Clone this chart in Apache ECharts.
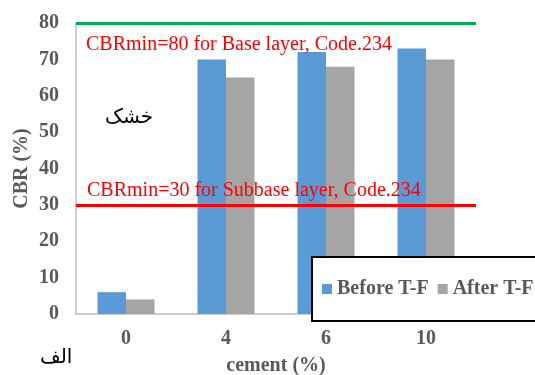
<!DOCTYPE html>
<html>
<head>
<meta charset="utf-8">
<script src="https://cdn.jsdelivr.net/npm/echarts@6/dist/echarts.min.js"></script>
<style>html,body{margin:0;padding:0;background:#fff;}#c{width:535px;height:375px;}</style>
</head>
<body>
<div id="c"></div>
<script>
const categories = ['0', '4', '6', '10'];
const beforeTF = [6, 70, 72, 73];
const afterTF = [4, 65, 68, 70];
const seriesNames = ['Before T-F', 'After T-F'];
const baseLimit = 80;
const subbaseLimit = 30;
const yTicks = [0, 10, 20, 30, 40, 50, 60, 70, 80];

const serif = '"Liberation Serif", "Times New Roman", serif';
const chart = echarts.init(document.getElementById('c'), null, {renderer: 'canvas'});
chart.setOption({
  animation: false,
  grid: {left: 76, right: 59, top: 23, bottom: 61, containLabel: false, outerBoundsMode: 'none'},
  legend: {
    data: seriesNames,
    left: 312, top: 257, width: 400,
    padding: [22, 10, 22, 10],
    borderColor: '#000', borderWidth: 2, backgroundColor: '#fff',
    icon: 'rect', itemWidth: 10, itemHeight: 10, itemGap: 9,
    textStyle: {fontFamily: serif, fontWeight: 'bold', fontSize: 20, color: '#595959'}
  },
  xAxis: {
    type: 'category', data: categories,
    name: 'cement (%)', nameLocation: 'middle', nameGap: 42,
    nameTextStyle: {fontFamily: serif, fontWeight: 'bold', fontSize: 20, color: '#595959'},
    axisLine: {lineStyle: {color: '#bfbfbf', width: 1.5}},
    axisTick: {show: false},
    axisLabel: {fontFamily: serif, fontWeight: 'bold', fontSize: 20, color: '#595959', margin: 15}
  },
  yAxis: {
    type: 'value', min: yTicks[0], max: yTicks[yTicks.length - 1], interval: 10,
    name: 'CBR (%)', nameLocation: 'middle', nameGap: 44, nameMoveOverlap: false,
    nameTextStyle: {fontFamily: serif, fontWeight: 'bold', fontSize: 20, color: '#595959'},
    axisLine: {show: true, lineStyle: {color: '#bfbfbf', width: 1.5}},
    axisTick: {show: false},
    splitLine: {show: false},
    axisLabel: {fontFamily: serif, fontWeight: 'bold', fontSize: 20, color: '#595959', margin: 17}
  },
  series: [
    {
      name: seriesNames[0], type: 'bar', data: beforeTF, barWidth: 28.5, barGap: '0%',
      itemStyle: {color: '#5b9bd5'},
      markLine: {
        silent: true, symbol: 'none', label: {show: false},
        data: [
          {yAxis: baseLimit, lineStyle: {color: '#00b050', width: 3, type: 'solid'}},
          {yAxis: subbaseLimit, lineStyle: {color: '#ff0000', width: 3, type: 'solid'}}
        ]
      }
    },
    {
      name: seriesNames[1], type: 'bar', data: afterTF, barWidth: 28.5,
      itemStyle: {color: '#a5a5a5'}
    }
  ],
  graphic: [
    {type: 'text', left: 86, top: 35, z: 100,
     style: {text: 'CBRmin=' + baseLimit + ' for Base layer, Code.234', font: '20px ' + serif, fill: '#ff0000'}},
    {type: 'text', left: 87, top: 181, z: 100,
     style: {text: 'CBRmin=' + subbaseLimit + ' for Subbase layer, Code.234', font: '20px ' + serif, fill: '#ff0000'}},
    {type: 'text', left: 105, top: 108, z: 100,
     style: {text: 'خشک', font: '20px "DejaVu Sans", sans-serif', fill: '#000'}},
    {type: 'text', left: 40, top: 348, z: 100,
     style: {text: 'الف', font: '20px "DejaVu Sans", sans-serif', fill: '#000'}}
  ]
});
</script>
</body>
</html>
